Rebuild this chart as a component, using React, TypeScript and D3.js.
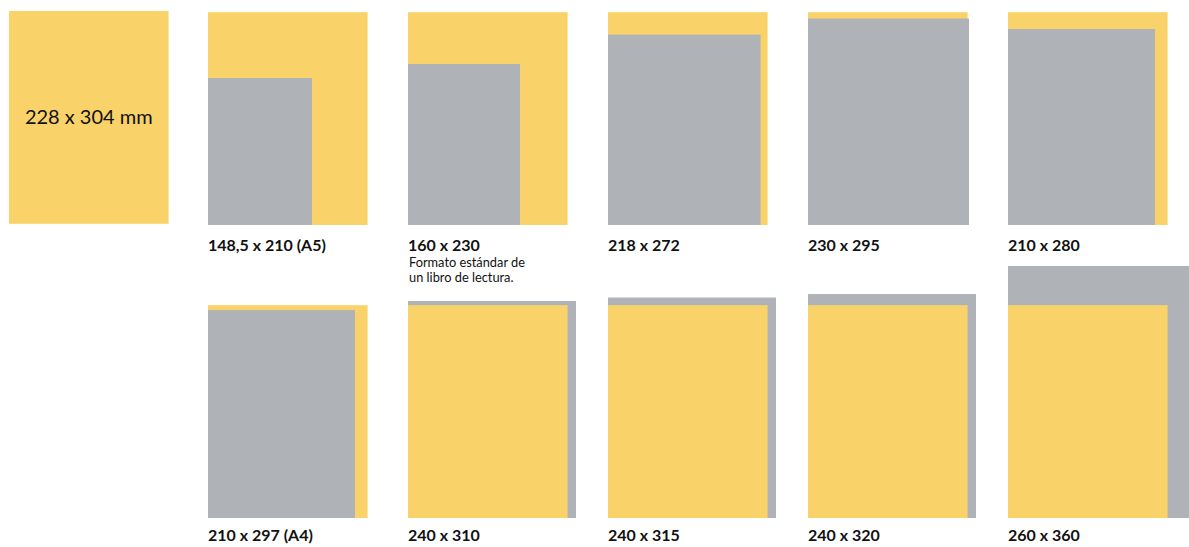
import React from "react";
import * as d3 from "d3";

const referenceSize = { w: 228, h: 304 };
const referenceLabel = "228 x 304 mm";

const formatWidths = [148.5, 160, 218, 230, 210, 210, 240, 240, 240, 260];
const formatHeights = [210, 230, 272, 295, 280, 297, 310, 315, 320, 360];
const formatLabels = [
  "148,5 x 210 (A5)",
  "160 x 230",
  "218 x 272",
  "230 x 295",
  "210 x 280",
  "210 x 297 (A4)",
  "240 x 310",
  "240 x 315",
  "240 x 320",
  "260 x 360",
];
const formatNotes = [
  [],
  ["Formato estándar de", "un libro de lectura."],
  [],
  [],
  [],
  [],
  [],
  [],
  [],
  [],
];

const YELLOW = "#F9D36A";
const GRAY = "#AFB3B7";
const FONT = "Lato, 'Open Sans', sans-serif";

export default function App() {
  const W = 1189;
  const H = 547;
  const mm = d3.scaleLinear().domain([0, 100]).range([0, 70]);
  const col = d3.scaleLinear().domain([0, 4]).range([208, 1008]);
  const rowBottom = [225, 518];
  const labelOffset = [26, 23];

  const refW = mm(referenceSize.w);
  const refH = mm(referenceSize.h);

  return (
    <svg
      width={W}
      height={H}
      style={{ position: "absolute", left: 0, top: 0, display: "block", background: "#fff" }}
    >
      {/* reference sheet */}
      <rect x={9} y={11} width={refW} height={refH} fill={YELLOW} />
      <text
        x={9 + refW / 2}
        y={11 + refH / 2}
        dy="0.35em"
        textAnchor="middle"
        fontFamily={FONT}
        fontSize={20}
        fill="#111"
      >
        {referenceLabel}
      </text>

      {formatLabels.map((label, i) => {
        const c = i % 5;
        const r = Math.floor(i / 5);
        const x0 = col(c);
        const bottom = rowBottom[r];
        const fw = mm(formatWidths[i]);
        const fh = mm(formatHeights[i]);
        const yellow = (
          <rect key="y" x={x0} y={bottom - refH} width={refW} height={refH} fill={YELLOW} />
        );
        const gray = (
          <rect key="g" x={x0} y={bottom - fh} width={fw} height={fh} fill={GRAY} />
        );
        const smaller =
          formatWidths[i] * formatHeights[i] < referenceSize.w * referenceSize.h;
        const ly = bottom + labelOffset[r];
        return (
          <g key={i}>
            {smaller ? [yellow, gray] : [gray, yellow]}
            <text
              x={x0}
              y={ly}
              fontFamily={FONT}
              fontWeight={700}
              fontSize={16}
              fill="#111"
            >
              {label}
            </text>
            {formatNotes[i].map((line, j) => (
              <text
                key={j}
                x={x0 + 1}
                y={ly + 16 + j * 15}
                fontFamily={FONT}
                fontSize={12.8}
                fill="#111"
              >
                {line}
              </text>
            ))}
          </g>
        );
      })}
    </svg>
  );
}
